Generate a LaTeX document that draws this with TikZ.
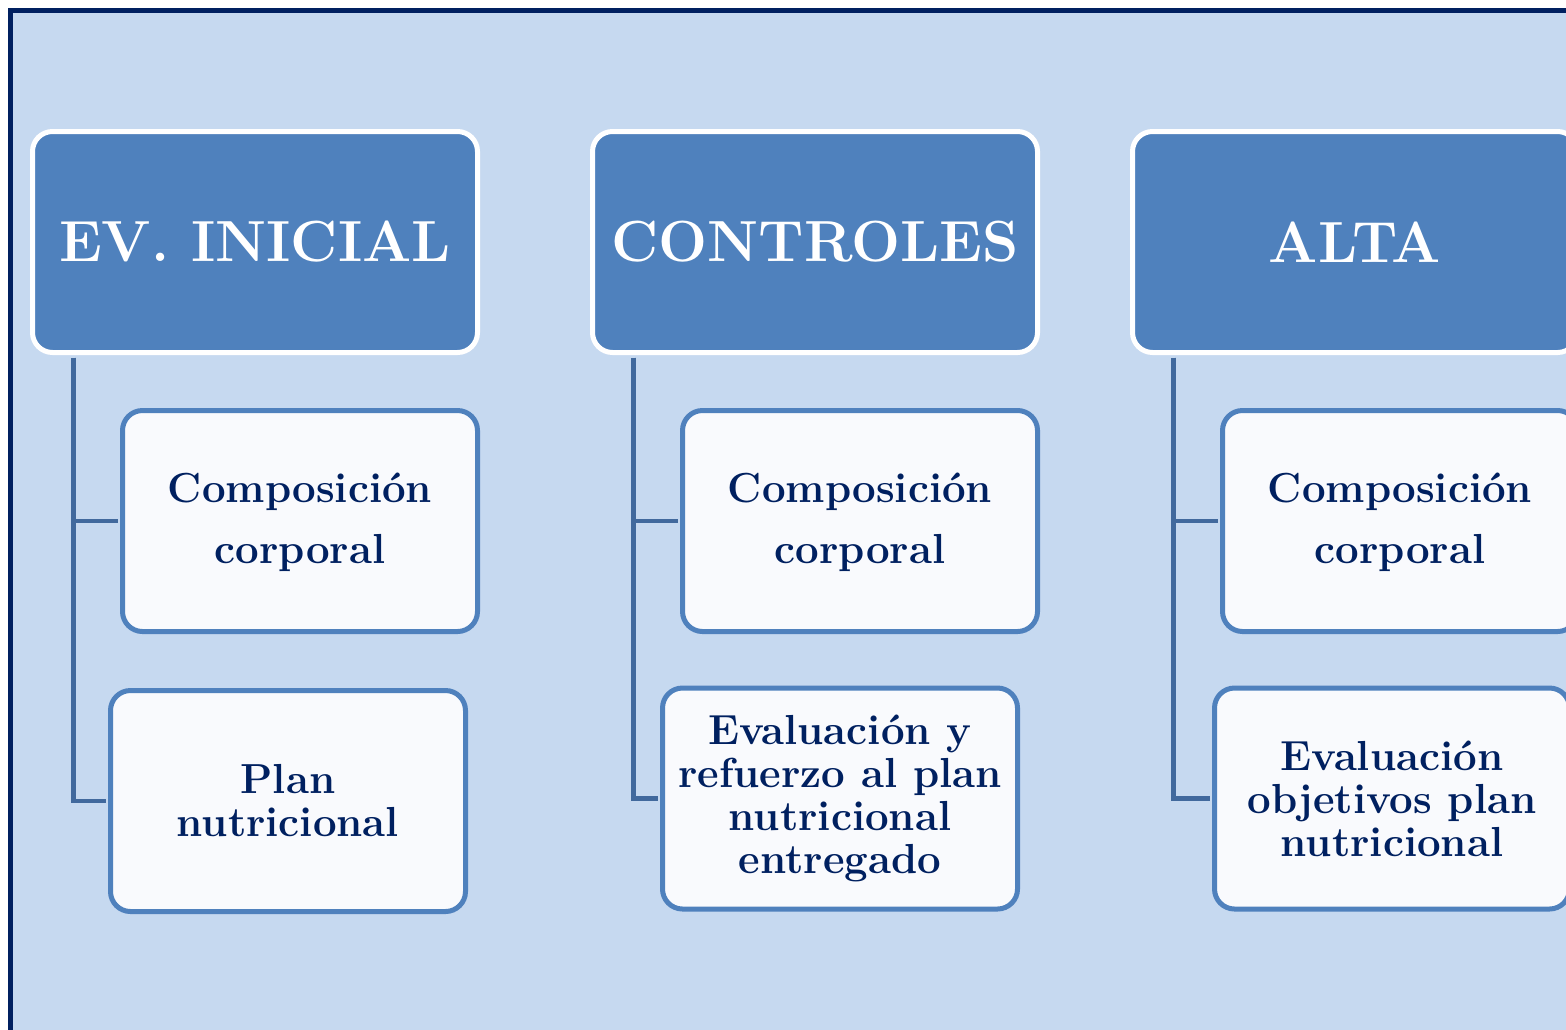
\documentclass[tikz,border=0pt]{standalone}
\usepackage{fontspec}
\usetikzlibrary{calc}

\definecolor{bgblue}{RGB}{198,217,240}
\definecolor{hdrblue}{RGB}{79,129,189}
\definecolor{linkblue}{RGB}{65,105,157}
\definecolor{navy}{RGB}{0,32,96}
\definecolor{boxwhite}{RGB}{249,250,253}

\begin{document}
\begin{tikzpicture}[x=0.5pt,y=-0.5pt]

% Box styles
\tikzset{
    header/.style={draw=white,line width=2.5pt,fill=hdrblue,rounded corners=10pt,
        minimum width=222.5pt,minimum height=110.5pt,inner sep=0pt,
        text=white,font=\bfseries\fontsize{29}{30}\selectfont},
    item/.style={draw=hdrblue,line width=2.5pt,fill=boxwhite,rounded corners=10pt,
        minimum width=177.5pt,minimum height=110.5pt,inner sep=0pt,align=center,
        text=navy,font=\bfseries\fontsize{21}{21.5}\selectfont},
    spaced/.style={font=\bfseries\fontsize{21}{30.5}\selectfont,text depth=3pt},
    link/.style={draw=linkblue,line width=2.4pt,shorten <=1.25pt,shorten >=1.25pt}
}

% Background
\useasboundingbox (0,0) rectangle (1566,1029);
\fill[bgblue] (10.5,10.5) rectangle (1600,1100);
\draw[navy,line width=2.5pt] (10.5,1100) -- (10.5,10.5) -- (1600,10.5);

% Stages
\node[header] (ini) at (255,242) {EV. INICIAL};
\node[header] (ctr) at (815,242) {CONTROLES};
\node[header] (alta) at (1355,242) {ALTA};

% Items
\node[item,spaced] (ini1) at (300,521) {Composición\\corporal};
\node[item] (ini2) at (288,801) {Plan\\nutricional};

\node[item,spaced] (ctr1) at (860,521) {Composición\\corporal};
\node[item] (ctr2) at (840,798.5) {Evaluación y\\refuerzo al plan\\nutricional\\entregado};

\node[item,spaced] (alta1) at (1400,521) {Composición\\corporal};
\node[item] (alta2) at (1392,798.5) {Evaluación\\objetivos plan\\nutricional};

% Connectors
\coordinate (iniT) at ($(ini.south west)+(43.5,0)$);
\coordinate (ctrT) at ($(ctr.south west)+(43.5,0)$);
\coordinate (altaT) at ($(alta.south west)+(43.5,0)$);

\draw[link] (iniT) |- (ini1.west);
\draw[link] (iniT) |- (ini2.west);
\draw[link] (ctrT) |- (ctr1.west);
\draw[link] (ctrT) |- (ctr2.west);
\draw[link] (altaT) |- (alta1.west);
\draw[link] (altaT) |- (alta2.west);

\end{tikzpicture}
\end{document}
